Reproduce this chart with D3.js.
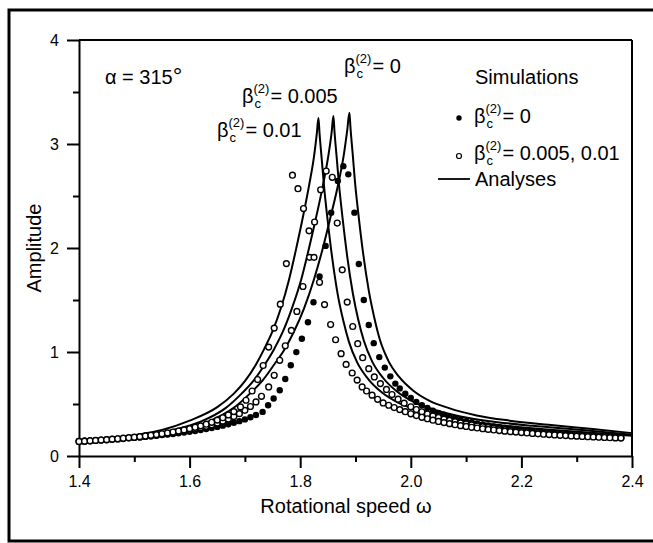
<!DOCTYPE html>
<html>
<head>
<meta charset="utf-8">
<script src="https://cdn.jsdelivr.net/npm/d3@7"></script>
<style>
  body { margin: 0; background: #fff; }
  text { font-family: "Liberation Sans", Arial, sans-serif; fill: #000; }
</style>
</head>
<body>
<div id="chart"></div>
<script>
// axis ticks
var xTicks = [1.4, 1.6, 1.8, 2.0, 2.2, 2.4];
var xMinor = [1.5, 1.7, 1.9, 2.1, 2.3];
var yTicks = [0, 1, 2, 3, 4];
var yMinor = [0.5, 1.5, 2.5, 3.5];

// analyses (solid lines)
var anaOmega01 = [1.400, 1.450, 1.500, 1.550, 1.600, 1.650, 1.680, 1.700, 1.720, 1.735, 1.750, 1.765, 1.780, 1.793, 1.805, 1.816, 1.825, 1.830, 1.833, 1.835, 1.839, 1.843, 1.850, 1.858, 1.868, 1.878, 1.888, 1.903, 1.923, 1.948, 1.978, 2.013, 2.063, 2.123, 2.193, 2.283, 2.400];
var anaAmp01   = [0.14, 0.165, 0.20, 0.25, 0.34, 0.47, 0.60, 0.72, 0.88, 1.03, 1.20, 1.42, 1.70, 2.00, 2.30, 2.60, 2.88, 3.10, 3.25, 3.10, 2.85, 2.60, 2.25, 1.90, 1.55, 1.30, 1.10, 0.90, 0.74, 0.61, 0.51, 0.44, 0.37, 0.32, 0.28, 0.24, 0.195];

var anaOmega005 = [1.400, 1.470, 1.520, 1.570, 1.620, 1.665, 1.694, 1.715, 1.736, 1.752, 1.769, 1.785, 1.802, 1.816, 1.829, 1.841, 1.851, 1.857, 1.860, 1.862, 1.866, 1.870, 1.877, 1.885, 1.895, 1.905, 1.915, 1.930, 1.950, 1.975, 2.005, 2.040, 2.090, 2.150, 2.220, 2.310, 2.400];
var anaAmp005   = [0.13, 0.165, 0.20, 0.25, 0.33, 0.46, 0.60, 0.72, 0.88, 1.02, 1.20, 1.42, 1.70, 2.00, 2.30, 2.60, 2.89, 3.12, 3.27, 3.12, 2.87, 2.62, 2.27, 1.92, 1.57, 1.31, 1.11, 0.91, 0.75, 0.62, 0.52, 0.45, 0.38, 0.33, 0.29, 0.25, 0.205];

var anaOmega0 = [1.400, 1.450, 1.499, 1.544, 1.589, 1.634, 1.679, 1.709, 1.731, 1.753, 1.771, 1.789, 1.807, 1.825, 1.841, 1.855, 1.869, 1.879, 1.885, 1.889, 1.891, 1.895, 1.899, 1.906, 1.914, 1.924, 1.934, 1.944, 1.959, 1.979, 2.004, 2.034, 2.069, 2.119, 2.179, 2.249, 2.329, 2.400];
var anaAmp0   = [0.125, 0.145, 0.165, 0.20, 0.25, 0.33, 0.46, 0.60, 0.72, 0.88, 1.02, 1.20, 1.42, 1.70, 2.00, 2.30, 2.62, 2.90, 3.13, 3.30, 3.15, 2.90, 2.64, 2.29, 1.94, 1.59, 1.33, 1.12, 0.92, 0.76, 0.63, 0.53, 0.46, 0.39, 0.34, 0.30, 0.26, 0.22];

// simulations, right-hand tail shares the same speed steps
var tailOmega = [2.00, 2.01, 2.02, 2.03, 2.04, 2.05, 2.06, 2.07, 2.08, 2.09, 2.10, 2.11, 2.12, 2.13, 2.14, 2.15, 2.16, 2.17, 2.18, 2.19, 2.20, 2.21, 2.22, 2.23, 2.24, 2.25, 2.26, 2.27, 2.28, 2.29, 2.30, 2.31, 2.32, 2.33, 2.34, 2.35, 2.36, 2.37, 2.38];

// beta = 0 (filled)
var simOmega0 = [1.40, 1.41, 1.42, 1.43, 1.44, 1.45, 1.46, 1.47, 1.48, 1.49, 1.50, 1.51, 1.52, 1.53, 1.54, 1.55, 1.56, 1.57, 1.58, 1.59, 1.60, 1.61, 1.62, 1.63, 1.64, 1.65, 1.66, 1.67, 1.68, 1.69, 1.70, 1.71, 1.72,
  1.732, 1.742, 1.752, 1.763, 1.773, 1.783, 1.793, 1.803, 1.814, 1.824, 1.835, 1.846, 1.856, 1.868, 1.878, 1.887, 1.898, 1.906, 1.915, 1.924, 1.933, 1.943, 1.953, 1.963, 1.972,
  1.98, 1.99].concat(tailOmega);
var simAmp0 = [0.144, 0.147, 0.150, 0.152, 0.155, 0.159, 0.162, 0.165, 0.169, 0.173, 0.177, 0.181, 0.186, 0.190, 0.195, 0.201, 0.206, 0.212, 0.219, 0.226, 0.233, 0.241, 0.250, 0.259, 0.269, 0.280, 0.292, 0.305, 0.319, 0.335, 0.352, 0.372, 0.394,
  0.424, 0.488, 0.553, 0.632, 0.740, 0.872, 0.999, 1.127, 1.286, 1.478, 1.727, 2.020, 2.340, 2.644, 2.787, 2.708, 2.340, 1.846, 1.500, 1.260, 1.085, 0.951, 0.850, 0.766, 0.696,
  0.650, 0.599,
  0.557, 0.520, 0.488, 0.461, 0.436, 0.415, 0.396, 0.378, 0.363, 0.348, 0.335, 0.324, 0.313, 0.303, 0.293, 0.285, 0.277, 0.269, 0.262, 0.256,
  0.250, 0.244, 0.238, 0.233, 0.228, 0.224, 0.219, 0.215, 0.211, 0.208, 0.204, 0.201, 0.197, 0.194, 0.191, 0.188, 0.186, 0.183, 0.181];

// beta = 0.005 (open)
var simOmega005 = [1.40, 1.41, 1.42, 1.43, 1.44, 1.45, 1.46, 1.47, 1.48, 1.49, 1.50, 1.51, 1.52, 1.53, 1.54, 1.55, 1.56, 1.57, 1.58, 1.59, 1.60, 1.61, 1.62, 1.63, 1.64, 1.65, 1.66, 1.67, 1.68, 1.69, 1.70, 1.71, 1.72, 1.73,
  1.743, 1.753, 1.763, 1.773, 1.784, 1.794, 1.805, 1.817, 1.826, 1.837, 1.847, 1.858, 1.867, 1.876, 1.885, 1.895, 1.904, 1.913, 1.924, 1.934, 1.945, 1.956,
  1.966, 1.977, 1.988].concat(tailOmega);
var simAmp005 = [0.140, 0.143, 0.146, 0.149, 0.153, 0.156, 0.160, 0.164, 0.168, 0.173, 0.178, 0.183, 0.188, 0.194, 0.200, 0.207, 0.214, 0.222, 0.230, 0.240, 0.250, 0.261, 0.273, 0.286, 0.300, 0.317, 0.335, 0.356, 0.380, 0.407, 0.439, 0.476, 0.520, 0.574,
  0.664, 0.776, 0.920, 1.060, 1.207, 1.390, 1.630, 1.910, 2.250, 2.560, 2.740, 2.680, 2.240, 1.790, 1.480, 1.245, 1.080, 0.945, 0.840, 0.760, 0.696, 0.640,
  0.591, 0.546, 0.508,
  0.473, 0.447, 0.425, 0.404, 0.386, 0.370, 0.355, 0.342, 0.330, 0.318, 0.308, 0.299, 0.290, 0.281, 0.274, 0.266, 0.260, 0.253, 0.248, 0.242,
  0.237, 0.232, 0.227, 0.223, 0.218, 0.214, 0.210, 0.207, 0.203, 0.200, 0.197, 0.194, 0.191, 0.188, 0.186, 0.183, 0.180, 0.178, 0.176];

// beta = 0.01 (open)
var simOmega01 = [1.40, 1.41, 1.42, 1.43, 1.44, 1.45, 1.46, 1.47, 1.48, 1.49, 1.50, 1.51, 1.52, 1.53, 1.54, 1.55, 1.56, 1.57, 1.58, 1.59, 1.60, 1.61, 1.62, 1.63, 1.64, 1.65, 1.66, 1.67, 1.68,
  1.692, 1.702, 1.713, 1.723, 1.733, 1.743, 1.753, 1.764, 1.775, 1.786, 1.796, 1.806, 1.816, 1.825, 1.835, 1.844, 1.855, 1.864, 1.874, 1.883, 1.894, 1.903, 1.912,
  1.92, 1.93, 1.94, 1.95, 1.96, 1.97, 1.98, 1.99].concat(tailOmega);
var simAmp01 = [0.140, 0.143, 0.146, 0.150, 0.154, 0.157, 0.162, 0.166, 0.171, 0.176, 0.181, 0.186, 0.193, 0.199, 0.206, 0.214, 0.222, 0.231, 0.240, 0.251, 0.263, 0.276, 0.290, 0.306, 0.324, 0.345, 0.368, 0.395, 0.427,
  0.472, 0.536, 0.625, 0.735, 0.870, 1.047, 1.230, 1.460, 1.850, 2.700, 2.570, 2.380, 2.165, 1.910, 1.670, 1.456, 1.264, 1.118, 0.984, 0.881, 0.798, 0.730, 0.664,
  0.625, 0.585, 0.545, 0.510, 0.488, 0.466, 0.446, 0.426,
  0.406, 0.389, 0.372, 0.358, 0.344, 0.332, 0.321, 0.311, 0.301, 0.292, 0.284, 0.276, 0.269, 0.262, 0.256, 0.250, 0.244, 0.239, 0.234, 0.230,
  0.225, 0.221, 0.217, 0.213, 0.209, 0.206, 0.202, 0.199, 0.196, 0.193, 0.191, 0.188, 0.185, 0.183, 0.181, 0.178, 0.176, 0.174, 0.172];

var W = 653, H = 543;

var svg = d3.select("#chart")
  .append("svg")
    .attr("width", W)
    .attr("height", H);

// outer frame of the figure
svg.append("path")
  .attr("d", "M653,10 H9 V541 H653")
  .attr("fill", "none")
  .attr("stroke", "#000")
  .attr("stroke-width", 3);

var x = d3.scaleLinear().domain([1.4, 2.4]).range([79, 632]);
var y = d3.scaleLinear().domain([0, 4]).range([456, 40]);

function styleAxis(g) {
  g.selectAll("path, line").attr("stroke", "#000").attr("stroke-width", 2);
  g.selectAll("text").style("font-size", "16px").attr("fill", "#000");
}

// x axis
svg.append("g")
  .attr("transform", "translate(0," + y(0) + ")")
  .call(d3.axisBottom(x).tickValues(xTicks).tickSize(12).tickSizeOuter(0)
    .tickPadding(8).tickFormat(d3.format(".1f")))
  .call(styleAxis);
svg.append("g")
  .attr("transform", "translate(0," + y(0) + ")")
  .call(d3.axisBottom(x).tickValues(xMinor).tickSize(6).tickFormat(""))
  .call(styleAxis)
  .select(".domain").remove();

// y axis
svg.append("g")
  .attr("transform", "translate(" + x(1.4) + ",0)")
  .call(d3.axisLeft(y).tickValues(yTicks).tickSize(12).tickSizeOuter(0)
    .tickPadding(8).tickFormat(d3.format("d")))
  .call(styleAxis);
svg.append("g")
  .attr("transform", "translate(" + x(1.4) + ",0)")
  .call(d3.axisLeft(y).tickValues(yMinor).tickSize(6).tickFormat(""))
  .call(styleAxis)
  .select(".domain").remove();

// top and right sides of the box
svg.append("line")
  .attr("x1", x(1.4)).attr("x2", x(2.4))
  .attr("y1", y(4)).attr("y2", y(4))
  .attr("stroke", "#000").attr("stroke-width", 2);
svg.append("line")
  .attr("x1", x(2.4)).attr("x2", x(2.4))
  .attr("y1", y(4)).attr("y2", y(0))
  .attr("stroke", "#000").attr("stroke-width", 2);

// analyses
var line = d3.line()
  .x(function(d) { return x(d[0]); })
  .y(function(d) { return y(d[1]); })
  .curve(d3.curveMonotoneX);

[[anaOmega01, anaAmp01], [anaOmega005, anaAmp005], [anaOmega0, anaAmp0]].forEach(function(s) {
  svg.append("path")
    .datum(d3.zip(s[0], s[1]))
    .attr("d", line)
    .attr("fill", "none")
    .attr("stroke", "#000")
    .attr("stroke-width", 2);
});

// simulations
svg.append("g").selectAll("circle")
  .data(d3.zip(simOmega0, simAmp0))
  .enter().append("circle")
    .attr("cx", function(d) { return x(d[0]); })
    .attr("cy", function(d) { return y(d[1]); })
    .attr("r", 3.2)
    .attr("fill", "#000");

[[simOmega005, simAmp005], [simOmega01, simAmp01]].forEach(function(s) {
  svg.append("g").selectAll("circle")
    .data(d3.zip(s[0], s[1]))
    .enter().append("circle")
      .attr("cx", function(d) { return x(d[0]); })
      .attr("cy", function(d) { return y(d[1]); })
      .attr("r", 2.9)
      .attr("fill", "#fff")
      .attr("stroke", "#000")
      .attr("stroke-width", 1.4);
});

// beta_c^(2) labels: one text, super and subscript stacked after the beta
function betaLabel(px, py, rest) {
  var t = svg.append("text").attr("x", px).attr("y", py)
    .style("font-size", "20px");
  t.append("tspan").text("β");
  var bw = t.node().getComputedTextLength();
  t.append("tspan").attr("dy", -10.5).style("font-size", "13px").text("(2)");
  var sw = t.node().getComputedTextLength() - bw;
  t.append("tspan").attr("x", px + bw + 1).attr("dy", 15)
    .style("font-size", "13px").text("c");
  t.append("tspan").attr("x", px + bw + sw + 1).attr("dy", -4.5).text(rest);
}

betaLabel(344, 73, "= 0");
betaLabel(242, 103, "= 0.005");
betaLabel(217, 137, "= 0.01");

svg.append("text").attr("x", 105).attr("y", 84)
  .style("font-size", "20px")
  .text("α = 315")
  .append("tspan").style("font-size", "24px").text("°");

// legend
svg.append("text").attr("x", 475).attr("y", 84)
  .style("font-size", "20px").text("Simulations");
svg.append("circle").attr("cx", 459).attr("cy", 118).attr("r", 2.7).attr("fill", "#000");
betaLabel(474, 123, "= 0");
svg.append("circle").attr("cx", 459).attr("cy", 156).attr("r", 2.5)
  .attr("fill", "#fff").attr("stroke", "#000").attr("stroke-width", 1.2);
betaLabel(474, 160, "= 0.005, 0.01");
svg.append("line").attr("x1", 438).attr("x2", 470).attr("y1", 179).attr("y2", 179)
  .attr("stroke", "#000").attr("stroke-width", 1.8);
svg.append("text").attr("x", 475).attr("y", 186)
  .style("font-size", "20px").text("Analyses");

// axis titles
svg.append("text")
  .attr("text-anchor", "middle")
  .attr("x", 346).attr("y", 513)
  .style("font-size", "20px")
  .text("Rotational speed ω");
svg.append("text")
  .attr("text-anchor", "middle")
  .attr("transform", "translate(41,248) rotate(-90)")
  .style("font-size", "20px")
  .text("Amplitude");
</script>
</body>
</html>
